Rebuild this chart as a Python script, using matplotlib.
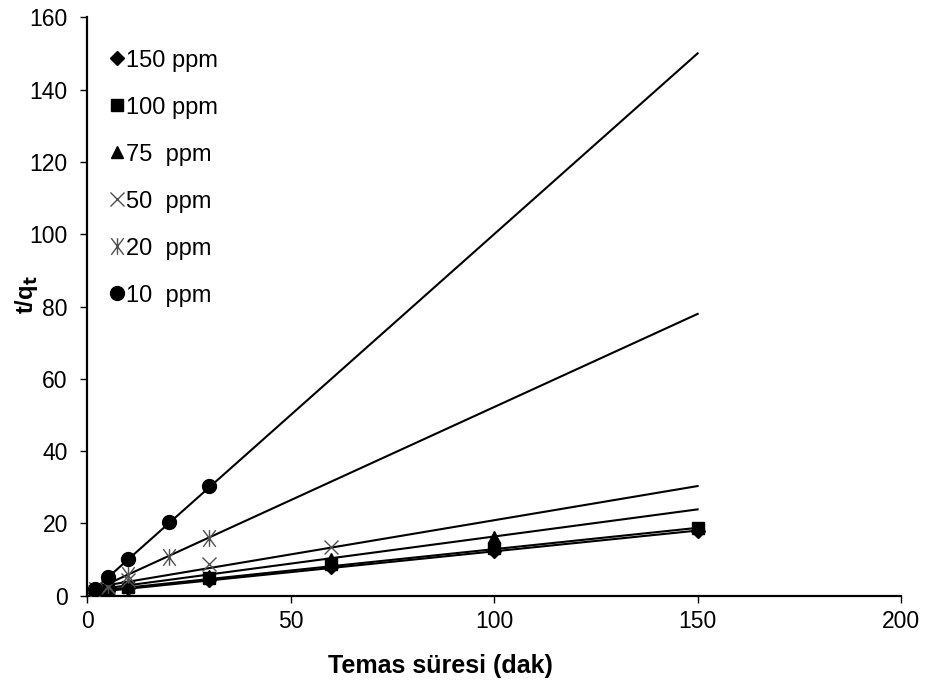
import matplotlib
matplotlib.use("Agg")
import matplotlib.pyplot as plt
from matplotlib.path import Path
import numpy as np

plt.rcParams['font.family'] = ['Liberation Sans', 'DejaVu Sans']

# data (t in dak, t/qt)
labels = ['150 ppm', '100 ppm', '75  ppm', '50  ppm', '20  ppm', '10  ppm']

x150 = [2, 5, 10, 30, 60, 100, 150]
y150 = [0.8, 1.3, 2.2, 4.5, 8.0, 12.5, 18.0]

x100 = [2, 5, 10, 30, 60, 100, 150]
y100 = [0.9, 1.5, 2.5, 5.0, 8.8, 13.2, 18.7]

x75 = [2, 5, 10, 30, 60, 100]
y75 = [0.9, 1.6, 2.6, 5.6, 10.2, 16.3]

x50 = [2, 5, 10, 30, 60]
y50 = [1.0, 2.3, 4.3, 8.8, 13.4]

x20 = [2, 5, 10, 20, 30]
y20 = [1.5, 3.0, 5.8, 10.8, 15.9]

x10 = [2, 5, 10, 20, 30]
y10 = [2.0, 5.1, 10.3, 20.3, 30.4]

# trendline slope / intercept
slopes = [0.115, 0.118, 0.150, 0.189, 0.515, 1.0]
intercepts = [0.8, 1.1, 1.4, 2.0, 0.7, 0.0]
line_x = [2, 150]

# excel style star: x with a vertical bar
star = Path([(-0.75, -1), (0.75, 1), (-0.75, 1), (0.75, -1), (0, -1), (0, 1)],
            [Path.MOVETO, Path.LINETO, Path.MOVETO, Path.LINETO, Path.MOVETO, Path.LINETO])

styles = [
    dict(marker='D', ms=7, color='black'),
    dict(marker='s', ms=9, color='black'),
    dict(marker='^', ms=9, color='black'),
    dict(marker='x', ms=10, mew=1.0, color='#505050'),
    dict(marker=star, ms=12, mew=1.0, color='#505050'),
    dict(marker='o', ms=10, color='black'),
]
series = [(x150, y150), (x100, y100), (x75, y75), (x50, y50), (x20, y20), (x10, y10)]

fig = plt.figure(figsize=(9.28, 6.88), dpi=100)
ax = fig.add_axes([0.094, 0.134, 0.877, 0.841])

for (xs, ys), st, lab, m, b in zip(series, styles, labels, slopes, intercepts):
    lx = np.array(line_x)
    ax.plot(lx, m * lx + b, color='black', lw=1.5, zorder=2)
    ax.plot(xs, ys, linestyle='none', label=lab, zorder=3, **st)

ax.set_xlim(0, 200)
ax.set_ylim(0, 160)
ax.set_xticks([0, 50, 100, 150, 200])
ax.set_yticks(range(0, 161, 20))

for s in ['top', 'right']:
    ax.spines[s].set_visible(False)
for s in ['left', 'bottom']:
    ax.spines[s].set_linewidth(1.6)

ax.tick_params(direction='out', length=5, width=1, labelsize=16.5)
ax.tick_params(axis='x', pad=5)
ax.tick_params(axis='y', pad=9)

ax.set_xlabel('Temas süresi (dak)', fontsize=18, fontweight='bold')
ax.xaxis.set_label_coords(0.434, -0.100)
ax.set_ylabel('t/q$_\\mathbf{t}$', fontsize=17, fontweight='bold')
ax.yaxis.set_label_coords(-0.058, 0.52)

ax.legend(loc='upper left', bbox_to_anchor=(0.029, 0.944), bbox_transform=ax.transAxes,
          frameon=False, fontsize=17, labelspacing=1.06, handletextpad=0.1,
          handlelength=0.55, borderpad=0, borderaxespad=0)

fig.savefig('out.png', dpi=100)
